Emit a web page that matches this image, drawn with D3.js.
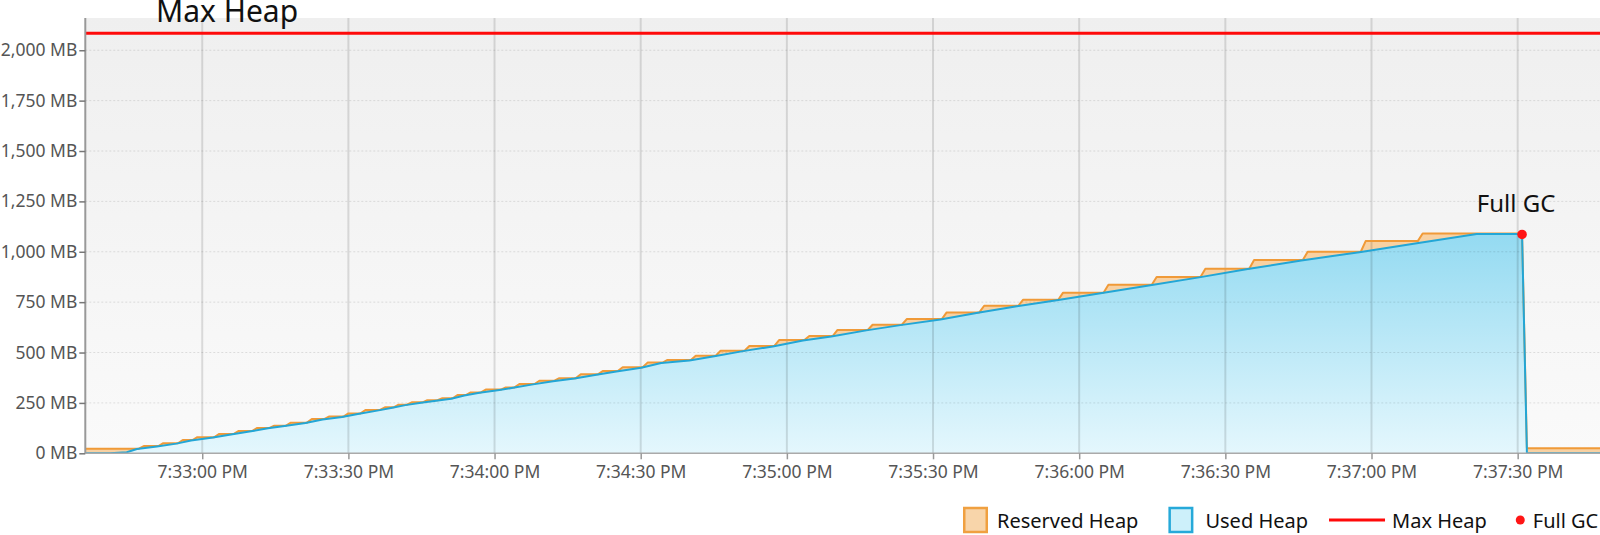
<!DOCTYPE html>
<html>
<head>
<meta charset="utf-8">
<script src="https://cdn.jsdelivr.net/npm/d3@7/dist/d3.min.js"></script>
<style>
  html, body { margin: 0; padding: 0; background: #ffffff; }
  svg { display: block; font-family: "Noto Sans", "Open Sans", sans-serif; }
</style>
</head>
<body>
<svg id="chart" width="1600" height="535"></svg>
<script>
// ---- data (time in seconds relative to 7:33:00 PM, values in MB) ----
const timeStart = -24;
const timeEnd = 286.9;
const yTicks = [0, 250, 500, 750, 1000, 1250, 1500, 1750, 2000];
const maxHeap = 2084;

const reservedInitial = 23;
const reservedStepTimes = [-12.5, -8.5, -4.5, -1.5, 3, 7, 10.8, 14.3, 17.7, 22, 25.5, 29.5, 33, 37, 39.8,
  42.5, 45.7, 48.8, 51.9, 54.6, 57.7, 61.8, 64.6, 68.7, 72.8, 77.2, 81.7, 85.8, 90.9, 95,
  100.8, 105.9, 111.8, 117.9, 124.1, 129.9, 137.1, 144.1, 152.3,
  160, 168, 176.2, 185.5, 195.4, 205.4, 215.4, 226.4, 238.3, 250, 271.4];
const reservedLevels = [36, 50, 66, 80, 96, 111, 126, 137, 152, 170, 182, 198, 215, 228, 241,
  253, 263, 273, 289, 302, 316, 327, 344, 360, 373, 392, 408, 427, 450, 463,
  484, 509, 532, 562, 582, 612, 638, 666, 699,
  732, 762, 797, 836, 875, 916, 959, 1000, 1053, 1091, 25];

const usedTimes = [-24, -18.9, -15.5, -13.4, -9.3, -5.3, -2.3, 2.2, 6.2, 10.0, 13.5, 16.9, 21.2, 24.7, 28.7, 32.2, 36.2, 39.0,
  41.7, 44.9, 48.0, 51.1, 53.8, 56.9, 61.0, 63.8, 67.9, 72.0, 76.4, 80.9, 85.0, 90.1, 94.2,
  100.0, 105.1, 111.0, 117.1, 123.3, 129.1, 136.3, 143.3, 151.5,
  159.2, 167.2, 175.4, 184.7, 194.6, 204.6, 214.6, 225.6, 237.5, 249.3, 261.6, 270.9, 271.9, 286.9];
const usedValues = [0, 0, 5, 21, 34, 48, 64, 78, 94, 109, 124, 135, 150, 168, 180, 196, 213, 226,
  239, 251, 261, 271, 287, 300, 314, 325, 342, 358, 371, 390, 406, 425, 448,
  461, 482, 507, 530, 560, 580, 610, 636, 664,
  697, 730, 760, 795, 834, 873, 914, 957, 998, 1042, 1088, 1088, 0, 0];

const fullGcTime = 270.9;
const fullGcValue = 1086;

const legendLabels = ["Reserved Heap", "Used Heap", "Max Heap", "Full GC"];

// ---- setup ----
const svg = d3.select("#chart");
const plot = { left: 85.3, right: 1600, top: 18, bottom: 453.3 };

const base = new Date(2024, 0, 1, 19, 33, 0).getTime();
const toDate = s => new Date(base + s * 1000);

const x = d3.scaleTime().domain([toDate(timeStart), toDate(timeEnd)]).range([plot.left, plot.right]);
const y = d3.scaleLinear().domain([0, 2160]).range([plot.bottom, plot.top]);

const defs = svg.append("defs");
const bgGrad = defs.append("linearGradient").attr("id", "bgGrad")
  .attr("x1", 0).attr("y1", 0).attr("x2", 0).attr("y2", 1);
bgGrad.append("stop").attr("offset", "0%").attr("stop-color", "#efefef");
bgGrad.append("stop").attr("offset", "100%").attr("stop-color", "#fafafa");

const usedGrad = defs.append("linearGradient").attr("id", "usedGrad")
  .attr("gradientUnits", "userSpaceOnUse")
  .attr("x1", 0).attr("x2", 0).attr("y1", y(1100)).attr("y2", y(0));
usedGrad.append("stop").attr("offset", "0%").attr("stop-color", "#93daf1");
usedGrad.append("stop").attr("offset", "100%").attr("stop-color", "#e4f7fd");

defs.append("clipPath").attr("id", "clip").append("rect")
  .attr("x", plot.left).attr("y", plot.top)
  .attr("width", plot.right - plot.left).attr("height", plot.bottom - plot.top);

// background
svg.append("rect").attr("x", plot.left).attr("y", plot.top)
  .attr("width", plot.right - plot.left).attr("height", plot.bottom - plot.top)
  .attr("fill", "url(#bgGrad)");

// ---- series ----
const reservedPts = [[timeStart, reservedInitial]];
const ramp = 1.0;
let prev = reservedInitial;
reservedStepTimes.forEach((t, i) => {
  reservedPts.push([t - ramp / 2, prev]);
  reservedPts.push([t + ramp / 2, reservedLevels[i]]);
  prev = reservedLevels[i];
});
reservedPts.push([timeEnd, prev]);

const usedPts = usedTimes.map((t, i) => [t, usedValues[i]]);

const area = d3.area().x(d => x(toDate(d[0]))).y0(y(0)).y1(d => y(d[1]));
const line = d3.line().x(d => x(toDate(d[0]))).y(d => y(d[1]));

const g = svg.append("g").attr("clip-path", "url(#clip)");
g.append("path").datum(reservedPts).attr("d", area).attr("fill", "#f8d1a2");
g.append("path").datum(usedPts).attr("d", area).attr("fill", "url(#usedGrad)");

// grid lines (over areas, translucent)
const xTicks = x.ticks(d3.timeSecond.every(30));
g.selectAll(".hgrid").data(yTicks.filter(v => v > 0)).enter().append("line")
  .attr("x1", plot.left).attr("x2", plot.right)
  .attr("y1", d => y(d)).attr("y2", d => y(d))
  .attr("stroke", "rgba(0,0,0,0.11)").attr("stroke-width", 1).attr("stroke-dasharray", "2,2");
g.selectAll(".vgrid").data(xTicks).enter().append("line")
  .attr("x1", d => x(d)).attr("x2", d => x(d))
  .attr("y1", plot.top).attr("y2", plot.bottom)
  .attr("stroke", "rgba(0,0,0,0.12)").attr("stroke-width", 2);

g.append("path").datum(reservedPts).attr("d", line).attr("fill", "none")
  .attr("stroke", "#f09a38").attr("stroke-width", 2).attr("stroke-linejoin", "round");
g.append("path").datum(usedPts).attr("d", line).attr("fill", "none")
  .attr("stroke", "#22a6d6").attr("stroke-width", 2).attr("stroke-linejoin", "round");

// max heap line
g.append("line").attr("x1", plot.left).attr("x2", plot.right)
  .attr("y1", y(maxHeap)).attr("y2", y(maxHeap))
  .attr("stroke", "#ff0a0a").attr("stroke-width", 3);

// ---- axes ----
const xAxis = d3.axisBottom(x).tickValues(xTicks)
  .tickFormat(d3.timeFormat("%-I:%M:%S %p")).tickSize(6).tickPadding(6);
const gx = svg.append("g").attr("transform", `translate(0,${plot.bottom})`).call(xAxis);
gx.select(".domain").attr("stroke", "#aaaaaa").attr("stroke-width", 1.5)
  .attr("d", `M${plot.left},0H${plot.right}`);
gx.selectAll(".tick line").attr("stroke", "#999").attr("stroke-width", 1.5);
gx.selectAll(".tick text").attr("fill", "#555").style("font-size", "17.5px")
  .style("font-family", "'Noto Sans', sans-serif");

const yAxis = d3.axisLeft(y).tickValues(yTicks)
  .tickFormat(d => d3.format(",")(d) + " MB").tickSize(6).tickPadding(2);
const gy = svg.append("g").attr("transform", `translate(${plot.left},0)`).call(yAxis);
gy.select(".domain").attr("stroke", "#999999").attr("stroke-width", 2)
  .attr("d", `M0,${plot.top}V${plot.bottom}`);
gy.selectAll(".tick line").attr("stroke", "#777").attr("stroke-width", 1.5);
gy.selectAll(".tick text").attr("fill", "#555").style("font-size", "17.5px")
  .style("font-family", "'Noto Sans', sans-serif");

// ---- annotations ----
svg.append("text").attr("x", 156).attr("y", 21.5)
  .attr("fill", "#111").style("font-size", "30px").text("Max Heap");

const gcX = x(toDate(fullGcTime)), gcY = y(fullGcValue);
svg.append("circle").attr("cx", gcX).attr("cy", gcY).attr("r", 4.8).attr("fill", "#ff1515");
svg.append("text").attr("x", gcX - 6).attr("y", gcY - 22).attr("text-anchor", "middle")
  .attr("fill", "#111").style("font-size", "24px").text("Full GC");

// ---- legend ----
const lg = svg.append("g").style("font-size", "20px");
const ly = 520;
let lx = 963;
// reserved
lg.append("rect").attr("x", lx + 1.25).attr("y", ly - 12).attr("width", 22.5).attr("height", 24)
  .attr("fill", "#f8d5aa").attr("stroke", "#f0a040").attr("stroke-width", 2.5);
let t = lg.append("text").attr("x", lx + 34).attr("y", ly + 7.5).attr("fill", "#111").text(legendLabels[0]);
lx = lx + 34 + t.node().getComputedTextLength() + 30;
// used
lg.append("rect").attr("x", lx + 1.25).attr("y", ly - 12).attr("width", 22.5).attr("height", 24)
  .attr("fill", "#cdf0fa").attr("stroke", "#26a9d9").attr("stroke-width", 2.5);
t = lg.append("text").attr("x", lx + 37).attr("y", ly + 7.5).attr("fill", "#111").text(legendLabels[1]);
lx = lx + 37 + t.node().getComputedTextLength() + 21;
// max heap
lg.append("line").attr("x1", lx).attr("x2", lx + 56).attr("y1", ly).attr("y2", ly)
  .attr("stroke", "#ff0a0a").attr("stroke-width", 3);
t = lg.append("text").attr("x", lx + 63).attr("y", ly + 7.5).attr("fill", "#111").text(legendLabels[2]);
lx = lx + 63 + t.node().getComputedTextLength() + 29;
// full gc
lg.append("circle").attr("cx", lx + 4.5).attr("cy", ly).attr("r", 4.5).attr("fill", "#ff1515");
lg.append("text").attr("x", lx + 17).attr("y", ly + 7.5).attr("fill", "#111").text(legendLabels[3]);
</script>
</body>
</html>
